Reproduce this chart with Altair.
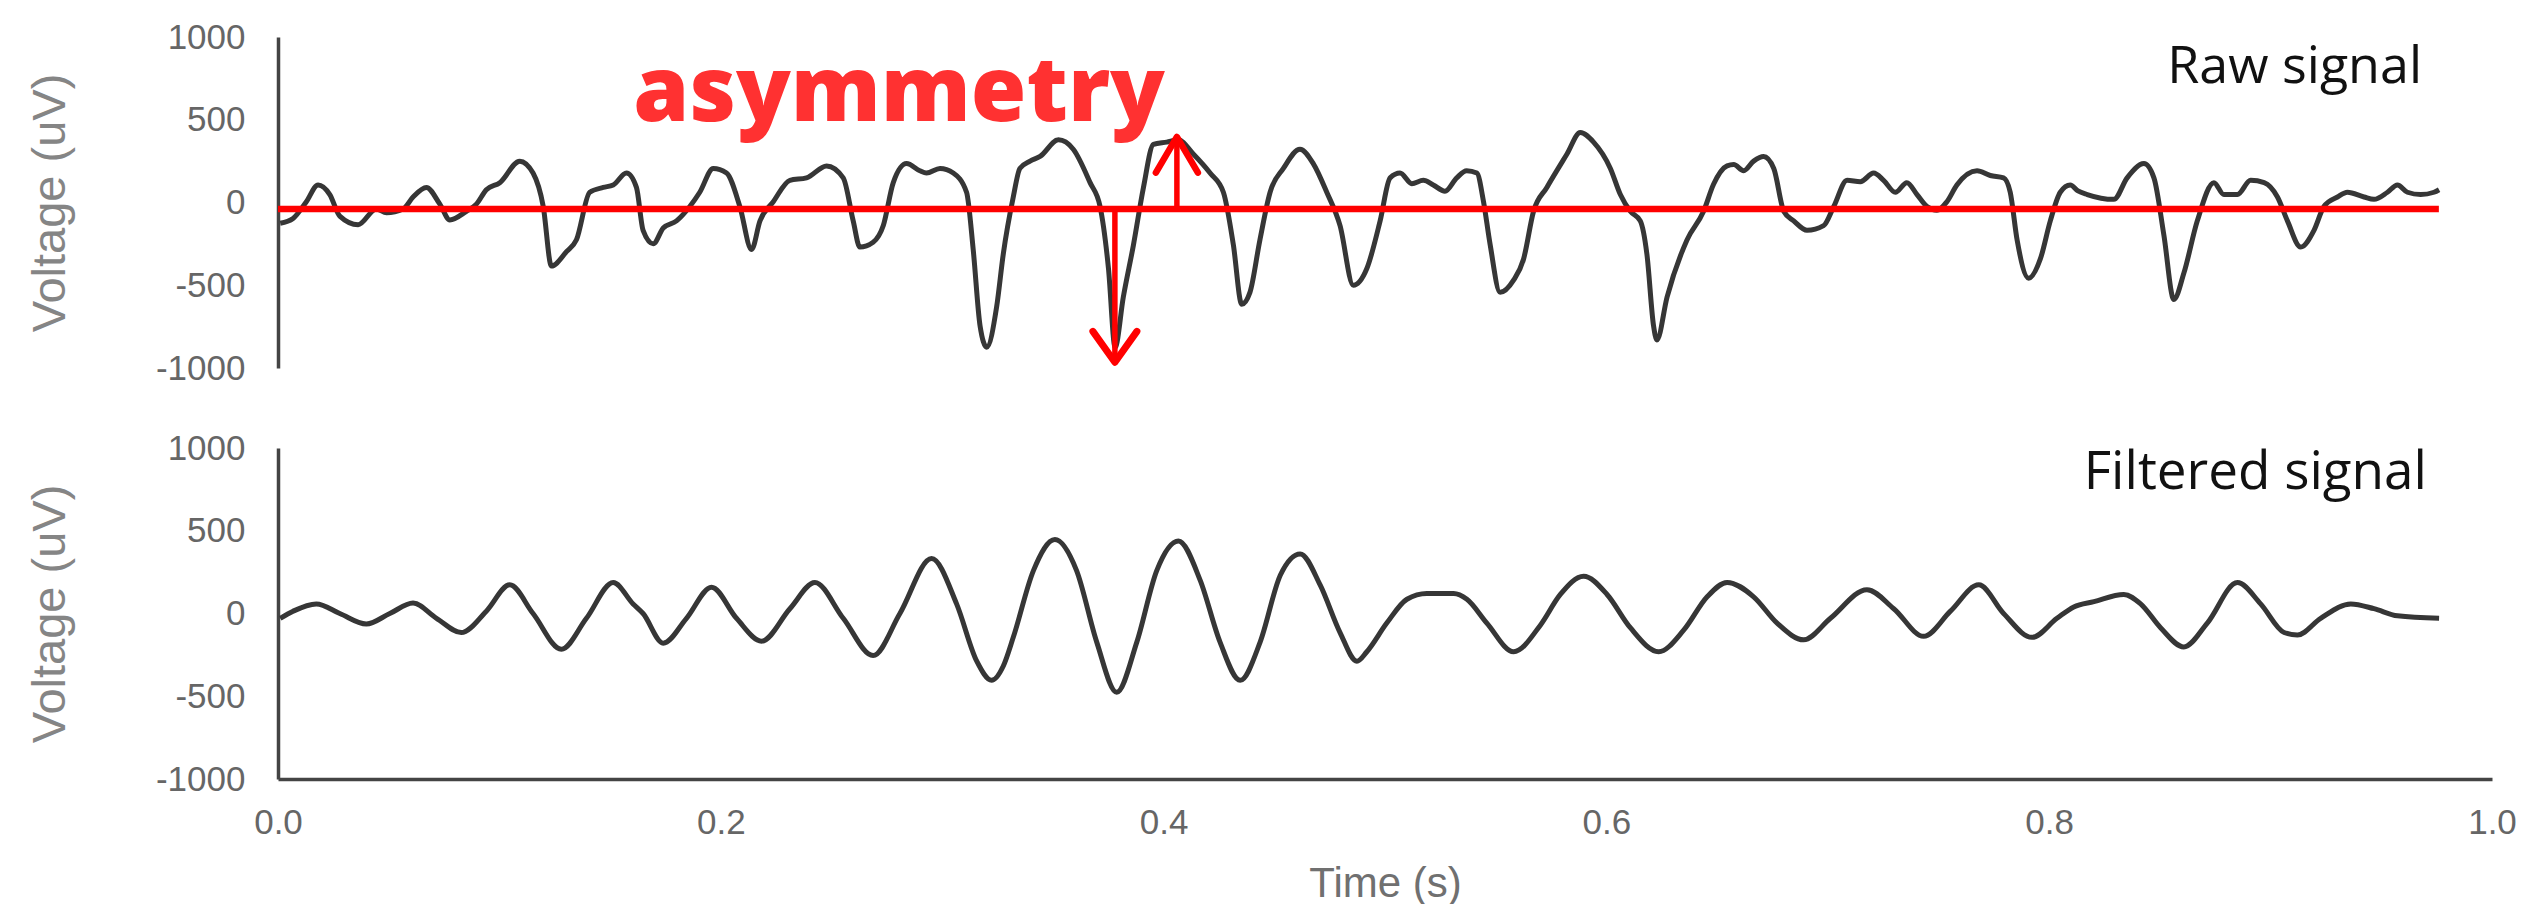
import altair as alt
import pandas as pd

# ---------------- data ----------------
raw_t = [0.001, 0.0068, 0.0128, 0.0181, 0.0234, 0.0279, 0.0362, 0.0444, 0.0490, 0.0565,
         0.0610, 0.0670, 0.0731, 0.0776, 0.0851, 0.0896, 0.0941, 0.1002, 0.1092, 0.1152,
         0.1198, 0.1235, 0.1303, 0.1348, 0.1408, 0.1469, 0.1514, 0.1574, 0.1619, 0.1649,
         0.1695, 0.1740, 0.1800, 0.1860, 0.1905, 0.1966, 0.2026, 0.2086, 0.2139, 0.2177,
         0.2237, 0.2312, 0.2387, 0.2478, 0.2553, 0.2598, 0.2628, 0.2688, 0.2734, 0.2779,
         0.2839, 0.2899, 0.2929, 0.2990, 0.3050, 0.3110, 0.3140, 0.3171, 0.3201, 0.3246,
         0.3276, 0.3321, 0.3351, 0.3397, 0.3442, 0.3525, 0.3592, 0.3668, 0.3713, 0.3751,
         0.3781, 0.3818, 0.3864, 0.3909, 0.3954, 0.4014, 0.4066, 0.4134, 0.4210, 0.4270,
         0.4315, 0.4353, 0.4390, 0.4435, 0.4481, 0.4541, 0.4616, 0.4676, 0.4737, 0.4797,
         0.4857, 0.4918, 0.4978, 0.5023, 0.5068, 0.5121, 0.5173, 0.5218, 0.5271, 0.5324,
         0.5369, 0.5415, 0.5445, 0.5475, 0.5520, 0.5580, 0.5626, 0.5671, 0.5731, 0.5822,
         0.5882, 0.5942, 0.6018, 0.6063, 0.6108, 0.6153, 0.6183, 0.6213, 0.6228, 0.6274,
         0.6364, 0.6439, 0.6484, 0.6545, 0.6575, 0.6620, 0.6665, 0.6710, 0.6756, 0.6801,
         0.6846, 0.6906, 0.6981, 0.7027, 0.7087, 0.7147, 0.7207, 0.7252, 0.7305, 0.7357,
         0.7403, 0.7448, 0.7493, 0.7538, 0.7583, 0.7674, 0.7734, 0.7794, 0.7824, 0.7855,
         0.7907, 0.7960, 0.8005, 0.8050, 0.8095, 0.8130, 0.8172, 0.8292, 0.8352, 0.8428,
         0.8473, 0.8518, 0.8563, 0.8608, 0.8669, 0.8744, 0.8789, 0.8850, 0.8910, 0.8971,
         0.9031, 0.9076, 0.9136, 0.9196, 0.9241, 0.9302, 0.9347, 0.9422, 0.9467, 0.9528,
         0.9573, 0.9618, 0.9678, 0.9738, 0.9761]
raw_v = [-125, -96, 5, 106, 48, -82, -134, -39, -62, -39,
         33, 91, -10, -105, -53, -10, 77, 120, 250, 178,
         -24, -384, -297, -225, 62, 91, 106, 178, 91, -168,
         -249, -154, -111, -24, 62, 206, 178, -24, -284, -111,
         5, 134, 149, 221, 149, -111, -269, -240, -139, 120,
         235, 192, 178, 206, 178, 62, -284, -745, -874, -629,
         -310, 33, 206, 250, 278, 379, 322, 120, -24, -399,
         -875, -572, -255, 91, 351, 365, 379, 293, 178, 62,
         -255, -615, -543, -226, 62, 206, 322, 235, 62, -140,
         -500, -399, -111, 149, 178, 114, 134, 106, 68, 149,
         192, 178, 5, -255, -543, -471, -341, -53, 91, 293,
         423, 365, 206, 48, -53, -111, -313, -745, -831, -572,
         -226, -53, 110, 221, 229, 192, 250, 278, 206, -53,
         -111, -168, -140, -24, 134, 126, 178, 134, 62, 120,
         48, -24, -47, 5, 106, 192, 163, 149, 62, -226,
         -457, -341, -111, 62, 106, 70, 48, 19, 149, 235,
         149, -197, -586, -428, -111, 120, 48, 48, 134, 120,
         33, -111, -269, -168, -24, 33, 62, 33, 19, 62,
         106, 62, 48, 62, 77]

filt_t = [0.001, 0.0068, 0.0173, 0.0279, 0.0399, 0.0505, 0.0610, 0.0716, 0.0828, 0.0941,
          0.1047, 0.1152, 0.1280, 0.1393, 0.1514, 0.1604, 0.1649, 0.1740, 0.1845, 0.1958,
          0.2071, 0.2184, 0.2312, 0.2425, 0.2553, 0.2688, 0.2809, 0.2952, 0.3065, 0.3156,
          0.3223, 0.3276, 0.3321, 0.3412, 0.3509, 0.3607, 0.3698, 0.3788, 0.3879, 0.3969,
          0.4067, 0.4165, 0.4255, 0.4346, 0.4436, 0.4527, 0.4617, 0.4707, 0.4797, 0.4873,
          0.4918, 0.5008, 0.5099, 0.5189, 0.5310, 0.5370, 0.5460, 0.5581, 0.5701, 0.5792,
          0.5897, 0.6003, 0.6108, 0.6236, 0.6349, 0.6455, 0.6545, 0.6665, 0.6771, 0.6891,
          0.7012, 0.7177, 0.7298, 0.7433, 0.7554, 0.7682, 0.7794, 0.7922, 0.8035, 0.8111,
          0.8202, 0.8337, 0.8413, 0.8503, 0.8608, 0.8714, 0.8850, 0.8955, 0.9061, 0.9121,
          0.9226, 0.9362, 0.9467, 0.9573, 0.9761]
filt_v = [-29, 14, 58, 0, -63, 0, 63, -29, -115, 14,
          173, 0, -216, -29, 187, 58, 0, -179, -29, 159,
          -29, -167, 29, 187, -29, -254, 0, 332, 58, -288,
          -404, -317, -144, 259, 447, 259, -173, -476, -173, 259,
          438, 202, -173, -404, -173, 231, 360, 173, -115, -288,
          -231, -58, 86, 121, 121, 86, -58, -231, -72, 115,
          225, 115, -86, -231, -101, 101, 188, 101, -58, -159,
          -29, 144, 29, -138, 14, 173, 0, -144, -29, 40,
          72, 115, 58, -86, -202, -58, 187, 58, -115, -130,
          -29, 58, 29, -14, -29]

y_ticks = [-1000, -500, 0, 500, 1000]
x_ticks = [0.0, 0.2, 0.4, 0.6, 0.8, 1.0]

# annotation values (data units)
asym_level = -40
asym_line_t = [0.0, 0.976]
down_arrow = {"t": 0.378, "tip": -965}
up_arrow = {"t": 0.406, "tip": 396}
asym_label = {"t": 0.1605, "v": 492, "text": "asymmetry"}
raw_label = {"t": 0.9684, "v": 722, "text": "Raw signal"}
filt_label = {"t": 0.9706, "v": 752, "text": "Filtered signal"}

# ---------------- chart ----------------
W, H = 2214, 331
xs = alt.Scale(domain=[0, 1], nice=False, zero=False)
ys = alt.Scale(domain=[-1000, 1000], nice=False)
SIG = "#363636"
RED = "#ff0000"
TICK_FONT = "Liberation Sans Narrow, Liberation Sans, Arial"

def y_axis():
    return alt.Axis(values=y_ticks, labelExpr="'' + datum.value", title="Voltage (uV)",
                    ticks=False, grid=False,
                    domainColor="#444444", domainWidth=3.5,
                    labelFont=TICK_FONT, labelFontSize=35, labelColor="#666666",
                    labelPadding=33,
                    titleFont="Liberation Sans", titleFontSize=47, titleFontWeight="normal",
                    titleColor="#858585", titleX=-228, titleY=H / 2, titleAngle=-90,
                    titleAlign="center", titleBaseline="middle")

raw_df = pd.DataFrame({"t": raw_t, "v": raw_v})
filt_df = pd.DataFrame({"t": filt_t, "v": filt_v})

raw_line = alt.Chart(raw_df).mark_line(color=SIG, strokeWidth=5, interpolate="monotone").encode(
    x=alt.X("t:Q", scale=xs, axis=None),
    y=alt.Y("v:Q", scale=ys, axis=y_axis()),
)

level_df = pd.DataFrame({"t": [asym_line_t[0]], "t2": [asym_line_t[1]], "v": [asym_level]})
level = alt.Chart(level_df).mark_rule(color=RED, strokeWidth=6.5).encode(
    x=alt.X("t:Q", scale=xs), x2="t2:Q", y=alt.Y("v:Q", scale=ys))

shaft_df = pd.DataFrame({"t": [down_arrow["t"], up_arrow["t"]],
                         "v": [asym_level, asym_level],
                         "v2": [down_arrow["tip"], up_arrow["tip"]]})
shafts = alt.Chart(shaft_df).mark_rule(color=RED, strokeWidth=5.5).encode(
    x=alt.X("t:Q", scale=xs), y=alt.Y("v:Q", scale=ys), y2="v2:Q")

down_head = alt.Chart(pd.DataFrame({"t": [down_arrow["t"]], "v": [down_arrow["tip"]]})).mark_point(
    shape="M-1,-1.4L0,0L1,-1.4", size=1936, filled=False, stroke=RED, strokeWidth=7,
    strokeCap="round", strokeJoin="round", opacity=1).encode(
    x=alt.X("t:Q", scale=xs), y=alt.Y("v:Q", scale=ys))
up_head = alt.Chart(pd.DataFrame({"t": [up_arrow["t"]], "v": [up_arrow["tip"]]})).mark_point(
    shape="M-1,1.7L0,0L1,1.7", size=1764, filled=False, stroke=RED, strokeWidth=6.5,
    strokeCap="round", strokeJoin="round", opacity=1).encode(
    x=alt.X("t:Q", scale=xs), y=alt.Y("v:Q", scale=ys))

asym_text = alt.Chart(pd.DataFrame([asym_label])).mark_text(
    font="Open Sans", fontWeight=800, fontSize=90, color="#ff3131",
    align="left", baseline="alphabetic").encode(
    x=alt.X("t:Q", scale=xs), y=alt.Y("v:Q", scale=ys), text="text:N")

raw_text = alt.Chart(pd.DataFrame([raw_label])).mark_text(
    font="Open Sans", fontSize=52, color="#111111",
    align="right", baseline="alphabetic").encode(
    x=alt.X("t:Q", scale=xs), y=alt.Y("v:Q", scale=ys), text="text:N")

top = alt.layer(raw_line, level, shafts, down_head, up_head, asym_text, raw_text).properties(
    width=W, height=H)

filt_line = alt.Chart(filt_df).mark_line(color=SIG, strokeWidth=5, interpolate="monotone").encode(
    x=alt.X("t:Q", scale=xs,
            axis=alt.Axis(values=x_ticks, format=".1f", title="Time (s)", ticks=False, grid=False,
                          labelFlush=False, domainColor="#444444", domainWidth=3.5,
                          labelFont=TICK_FONT, labelFontSize=35, labelColor="#666666",
                          labelPadding=26,
                          titleFont="Liberation Sans", titleFontSize=42, titleFontWeight="normal",
                          titleColor="#707070", titlePadding=23)),
    y=alt.Y("v:Q", scale=ys, axis=y_axis()),
)

filt_text = alt.Chart(pd.DataFrame([filt_label])).mark_text(
    font="Open Sans", fontSize=53, color="#111111",
    align="right", baseline="alphabetic").encode(
    x=alt.X("t:Q", scale=xs), y=alt.Y("v:Q", scale=ys), text="text:N")

bottom = alt.layer(filt_line, filt_text).properties(width=W, height=H)

chart = alt.vconcat(top, bottom, spacing=45).configure_view(stroke=None).properties(
    padding={"left": 25, "top": 20, "right": 0, "bottom": 0}, background="white")

chart.save("out.html", embed_options={"renderer": "svg", "actions": False})
